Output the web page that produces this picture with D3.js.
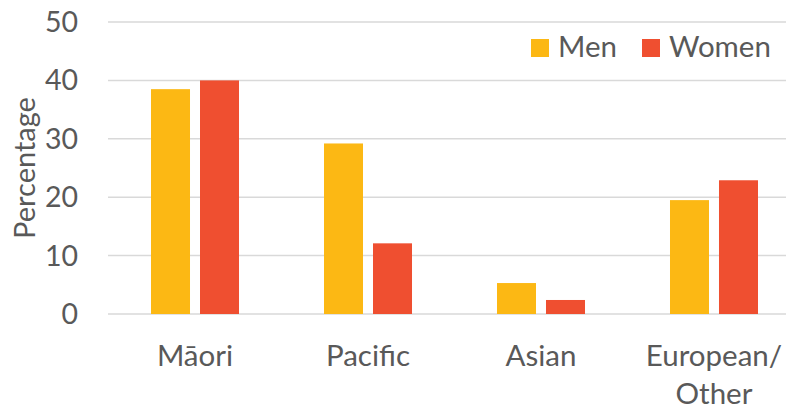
<!DOCTYPE html>
<html><head><meta charset="utf-8">
<script src="https://cdn.jsdelivr.net/npm/d3@7"></script>
<style>body{margin:0;background:#fff}svg{display:block}text{font-family:Lato,"Open Sans",sans-serif;fill:#595959}</style>
</head><body>
<svg id="c" width="786" height="411"></svg>
<script>
const categories = [["Māori"], ["Pacific"], ["Asian"], ["European/", "Other"]];
const series = ["Men", "Women"];
const men = [38.5, 29.2, 5.3, 19.5];
const women = [40.0, 12.1, 2.4, 22.9];
const yTicks = [0, 10, 20, 30, 40, 50];
const colors = ["#FCB814", "#EF4F30"];

const svg = d3.select("#c");
const y = d3.scaleLinear().domain([0, 50]).range([314, 22]);
const x0 = d3.scaleBand().domain(d3.range(categories.length)).range([108.5, 800.5]).paddingInner(0.4913).paddingOuter(0.2457);
const x1 = d3.scaleBand().domain(series).range([0, x0.bandwidth()]).paddingInner(0.204).paddingOuter(0);

// gridlines
svg.append("g").selectAll("line").data(yTicks).join("line")
  .attr("x1", 108).attr("x2", 786)
  .attr("y1", d => y(d)).attr("y2", d => y(d))
  .attr("stroke", "#d9d9d9").attr("stroke-width", 1.5);

// y tick labels
svg.append("g").selectAll("text").data(yTicks).join("text")
  .attr("x", 78).attr("y", d => y(d) + 10)
  .attr("text-anchor", "end").attr("font-size", 28.5).text(d => d);

// y label
svg.append("text").attr("transform", "translate(35,168) rotate(-90)")
  .attr("text-anchor", "middle").attr("font-size", 29).text("Percentage");

// bars
const data = categories.map((c, i) => ({i, vals: [men[i], women[i]]}));
const g = svg.append("g").selectAll("g").data(data).join("g")
  .attr("transform", d => `translate(${x0(d.i)},0)`);
g.selectAll("rect").data(d => d.vals.map((v, k) => ({k, v}))).join("rect")
  .attr("x", d => x1(series[d.k])).attr("width", x1.bandwidth())
  .attr("y", d => y(d.v)).attr("height", d => y(0) - y(d.v))
  .attr("fill", d => colors[d.k]);

// x labels
const xl = svg.append("g").selectAll("text").data(categories).join("text")
  .attr("text-anchor", "middle").attr("font-size", 29.5)
  .attr("x", (d, i) => x0(i) + x0.bandwidth() / 2).attr("y", 366);
xl.selectAll("tspan").data(d => d).join("tspan")
  .attr("x", function() { return this.parentNode.getAttribute("x"); })
  .attr("dy", (d, k) => k === 0 ? 0 : 38).text(d => d);

// legend
const lg = svg.append("g");
const legX = [531, 642];
series.forEach((s, k) => {
  lg.append("rect").attr("x", legX[k]).attr("y", 39).attr("width", 18).attr("height", 18).attr("fill", colors[k]);
  lg.append("text").attr("x", legX[k] + 27).attr("y", 57).attr("font-size", 29.5).text(s);
});
</script>
</body></html>
